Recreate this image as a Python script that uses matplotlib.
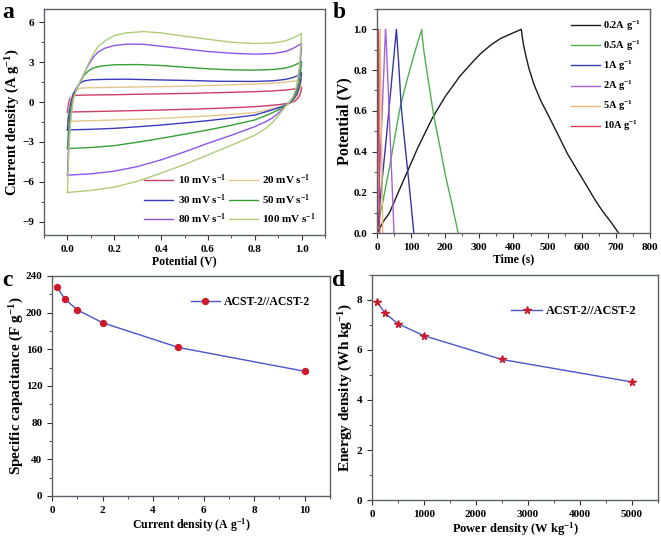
import matplotlib
matplotlib.use("Agg")
import matplotlib.pyplot as plt
from matplotlib.ticker import MultipleLocator

plt.rcParams["font.family"] = ["Liberation Serif", "DejaVu Serif"]
plt.rcParams["font.weight"] = "bold"
plt.rcParams["axes.labelweight"] = "bold"
plt.rcParams["mathtext.default"] = "regular"

# ---- panel a: CV loops (potential V, current A/g), forward then reverse sweep
cv_labels = ["10 mV s$^{-1}$", "20 mV s$^{-1}$", "30 mV s$^{-1}$",
             "50 mV s$^{-1}$", "80 mV s$^{-1}$", "100 mV s$^{-1}$"]
cv_colors = ["#cc3d66", "#e6c48e", "#3b3bbf", "#34a034", "#8f55ea", "#b0cc78"]

cv10_v = [0, 0.002, 0.005, 0.01, 0.02, 0.035, 0.06, 0.2, 0.35, 0.52, 0.65, 0.8, 0.88, 0.93, 0.96, 0.985, 1.0,
          0.998, 0.993, 0.985, 0.97, 0.95, 0.935, 0.9, 0.85, 0.8, 0.7, 0.6, 0.5, 0.4, 0.3, 0.2, 0.1, 0]
cv10_i = [-0.75, -0.4, -0.05, 0.25, 0.42, 0.5, 0.52, 0.55, 0.6, 0.65, 0.71, 0.78, 0.84, 0.9, 0.96, 1.03, 1.1,
          0.85, 0.55, 0.3, 0.05, -0.07, -0.12, -0.2, -0.28, -0.35, -0.43, -0.5, -0.55, -0.6, -0.64, -0.68, -0.72, -0.75]

cv20_v = [0, 0.003, 0.008, 0.015, 0.025, 0.04, 0.06, 0.1, 0.25, 0.4, 0.52, 0.65, 0.8, 0.88, 0.93, 0.96, 0.985, 1.0,
          0.997, 0.99, 0.98, 0.965, 0.95, 0.935, 0.9, 0.85, 0.8, 0.7, 0.6, 0.5, 0.4, 0.3, 0.2, 0.1, 0]
cv20_i = [-1.45, -0.9, -0.3, 0.3, 0.7, 0.95, 1.05, 1.08, 1.12, 1.16, 1.2, 1.27, 1.35, 1.42, 1.5, 1.56, 1.63, 1.7,
          1.3, 0.8, 0.4, 0.1, -0.07, -0.2, -0.4, -0.6, -0.8, -0.93, -1.05, -1.14, -1.23, -1.3, -1.35, -1.4, -1.45]

cv30_v = [0, 0.003, 0.008, 0.015, 0.025, 0.04, 0.056, 0.07, 0.1, 0.15, 0.25, 0.4, 0.52, 0.65, 0.8, 0.88, 0.93, 0.96, 0.985, 1.0,
          0.997, 0.99, 0.98, 0.965, 0.95, 0.935, 0.9, 0.85, 0.8, 0.7, 0.6, 0.5, 0.4, 0.3, 0.2, 0.1, 0]
cv30_i = [-2.1, -1.4, -0.7, 0.0, 0.6, 1.1, 1.45, 1.58, 1.67, 1.7, 1.72, 1.66, 1.62, 1.56, 1.55, 1.6, 1.7, 1.82, 2.0, 2.2,
          1.7, 1.1, 0.6, 0.2, -0.05, -0.2, -0.45, -0.72, -0.98, -1.2, -1.4, -1.57, -1.73, -1.86, -1.98, -2.05, -2.1]

cv50_v = [0, 0.003, 0.008, 0.015, 0.025, 0.04, 0.056, 0.07, 0.09, 0.11, 0.14, 0.2, 0.3, 0.4, 0.5, 0.6, 0.7, 0.8, 0.88, 0.93, 0.96, 0.985, 1.0,
          0.997, 0.99, 0.98, 0.965, 0.95, 0.935, 0.92, 0.9, 0.85, 0.8, 0.7, 0.6, 0.5, 0.4, 0.3, 0.2, 0.1, 0]
cv50_i = [-3.5, -2.5, -1.4, -0.4, 0.4, 1.0, 1.55, 2.0, 2.35, 2.55, 2.7, 2.8, 2.82, 2.75, 2.62, 2.5, 2.42, 2.4, 2.45, 2.55, 2.7, 2.9, 3.05,
          2.4, 1.5, 0.8, 0.3, 0.0, -0.2, -0.38, -0.6, -1.0, -1.35, -1.75, -2.1, -2.42, -2.73, -3.02, -3.28, -3.42, -3.5]

cv80_v = [0, 0.003, 0.008, 0.015, 0.025, 0.04, 0.056, 0.07, 0.09, 0.11, 0.13, 0.16, 0.2, 0.25, 0.32, 0.4, 0.5, 0.6, 0.7, 0.8, 0.88, 0.93, 0.96, 0.985, 1.0,
          0.997, 0.99, 0.98, 0.965, 0.95, 0.935, 0.92, 0.9, 0.875, 0.85, 0.8, 0.7, 0.6, 0.5, 0.4, 0.3, 0.2, 0.1, 0]
cv80_i = [-5.5, -4.0, -2.4, -0.9, 0.3, 1.0, 1.6, 2.1, 2.8, 3.35, 3.75, 4.05, 4.25, 4.35, 4.35, 4.2, 4.0, 3.8, 3.67, 3.6, 3.65, 3.8, 4.0, 4.25, 4.4,
          3.5, 2.2, 1.1, 0.4, 0.05, -0.22, -0.5, -0.85, -1.2, -1.45, -1.85, -2.5, -3.1, -3.75, -4.35, -4.85, -5.2, -5.4, -5.5]

cv100_v = [0, 0.003, 0.008, 0.015, 0.025, 0.04, 0.056, 0.07, 0.09, 0.11, 0.13, 0.16, 0.2, 0.25, 0.325, 0.4, 0.5, 0.6, 0.7, 0.8, 0.88, 0.93, 0.96, 0.985, 1.0,
           0.997, 0.99, 0.98, 0.965, 0.95, 0.935, 0.92, 0.9, 0.875, 0.85, 0.8, 0.7, 0.6, 0.5, 0.4, 0.3, 0.2, 0.1, 0]
cv100_i = [-6.8, -5.0, -3.0, -1.2, 0.2, 1.0, 1.6, 2.1, 2.9, 3.6, 4.15, 4.6, 5.0, 5.2, 5.3, 5.2, 4.95, 4.72, 4.5, 4.4, 4.45, 4.6, 4.8, 5.0, 5.15,
           4.2, 2.6, 1.3, 0.45, 0.05, -0.25, -0.6, -1.05, -1.55, -1.95, -2.5, -3.25, -3.98, -4.7, -5.35, -5.95, -6.4, -6.65, -6.8]

cv_v = [cv10_v, cv20_v, cv30_v, cv50_v, cv80_v, cv100_v]
cv_i = [cv10_i, cv20_i, cv30_i, cv50_i, cv80_i, cv100_i]

# ---- panel b: GCD curves (time s, potential V)
gcd_labels = ["0.2A g$^{-1}$", "0.5A g$^{-1}$", "1A g$^{-1}$",
              "2A g$^{-1}$", "5A g$^{-1}$", "10A g$^{-1}$"]
gcd_colors = ["#1a1a1a", "#4cb04c", "#3636a8", "#a860e0", "#e6bc70", "#e0385a"]
gcd_t = [
    [0, 5, 20, 37, 60, 86, 120, 164, 200, 243, 275, 303, 335, 362, 395, 423,
     426, 430, 435, 445, 460, 480, 500, 530, 558, 590, 617, 640, 660, 685, 708],
    [0, 5, 10, 18, 27, 37, 50, 66, 80, 96, 113, 131, 133, 137, 143, 155, 167, 185, 201, 220, 238],
    [0, 14, 27, 42, 57, 59, 63, 71, 81, 91, 100, 108],
    [0, 13, 25, 27, 38, 50],
    [0, 9, 17],
    [0, 4, 8],
]
gcd_v = [
    [0, 0.015, 0.06, 0.1, 0.19, 0.29, 0.42, 0.57, 0.67, 0.77, 0.83, 0.88, 0.925, 0.955, 0.98, 1.0,
     0.96, 0.92, 0.88, 0.81, 0.73, 0.65, 0.585, 0.485, 0.39, 0.3, 0.225, 0.16, 0.11, 0.055, 0],
    [0, 0.05, 0.1, 0.16, 0.24, 0.325, 0.45, 0.6, 0.7, 0.8, 0.9, 1.0, 0.96, 0.9, 0.83, 0.7, 0.57, 0.42, 0.28, 0.14, 0],
    [0, 0.24, 0.46, 0.73, 1.0, 0.95, 0.85, 0.62, 0.45, 0.29, 0.14, 0],
    [0, 0.5, 1.0, 0.95, 0.5, 0],
    [0, 1.0, 0],
    [0, 1.0, 0],
]

# ---- panels c and d: rate performance and Ragone plot
current_density = [0.2, 0.5, 1, 2, 5, 10]
capacitance = [228, 215, 203, 189, 162, 136]
power_density = [100, 250, 500, 1000, 2500, 5000]
energy_density = [7.92, 7.47, 7.05, 6.57, 5.62, 4.72]

fig = plt.figure(figsize=(6.61, 5.37), dpi=100)
ax_a = fig.add_axes([0.0666, 0.5624, 0.4251, 0.4209])
ax_b = fig.add_axes([0.5703, 0.5661, 0.4130, 0.4171])
ax_c = fig.add_axes([0.0787, 0.0764, 0.4206, 0.4097])
ax_d = fig.add_axes([0.5628, 0.0689, 0.4327, 0.4190])

for ax in (ax_a, ax_b, ax_c, ax_d):
    for sp in ax.spines.values():
        sp.set_color("#5a6066")
        sp.set_linewidth(1.0)
    ax.tick_params(which="both", direction="out", top=False, right=False,
                   labelsize=8, color="#333333")
    ax.tick_params(which="major", length=3.5)
    ax.tick_params(which="minor", length=2)

# a
for v, i, c, lab in zip(cv_v, cv_i, cv_colors, cv_labels):
    ax_a.plot(v, i, color=c, lw=1.0, label=lab)
ax_a.set_xlim(-0.1, 1.1)
ax_a.set_ylim(-10, 7)
ax_a.xaxis.set_major_locator(MultipleLocator(0.2))
ax_a.xaxis.set_minor_locator(MultipleLocator(0.1))
ax_a.yaxis.set_major_locator(MultipleLocator(3))
ax_a.yaxis.set_minor_locator(MultipleLocator(1.5))
ax_a.set_xlabel("Potential (V)", fontsize=8.5, labelpad=1)
ax_a.set_ylabel("Current density (A g$^{-1}$)", fontsize=10.5, labelpad=0)
h, l = ax_a.get_legend_handles_labels()
order = [0, 2, 4, 1, 3, 5]
ax_a.legend([h[k] for k in order], [l[k] for k in order], ncol=2, loc="lower right",
            frameon=False, fontsize=8, handlelength=2.6, columnspacing=0.25,
            handletextpad=0.4, labelspacing=0.45, borderaxespad=0.4)

# b
for t, v, c, lab in zip(gcd_t, gcd_v, gcd_colors, gcd_labels):
    ax_b.plot(t, v, color=c, lw=1.0, label=lab)
ax_b.set_xlim(0, 800)
ax_b.set_ylim(0, 1.1)
ax_b.xaxis.set_major_locator(MultipleLocator(100))
ax_b.xaxis.set_minor_locator(MultipleLocator(50))
ax_b.yaxis.set_major_locator(MultipleLocator(0.2))
ax_b.yaxis.set_minor_locator(MultipleLocator(0.1))
ax_b.set_xlabel("Time (s)", fontsize=8.5, labelpad=1)
ax_b.set_ylabel("Potential (V)", fontsize=11.5, labelpad=1)
ax_b.legend(loc="upper right", frameon=False, fontsize=7.5, handlelength=2.8,
            handletextpad=0.3, labelspacing=0.55, borderaxespad=0.5)

# c
ax_c.plot(current_density, capacitance, color="#4a55c8", lw=1.0, marker="o",
          ms=4.3, mfc="#cc1a2a", mec="#cc1a2a", label="ACST-2//ACST-2")
ax_c.set_xlim(0, 11)
ax_c.set_ylim(0, 240)
ax_c.xaxis.set_major_locator(MultipleLocator(2))
ax_c.xaxis.set_minor_locator(MultipleLocator(1))
ax_c.yaxis.set_major_locator(MultipleLocator(40))
ax_c.yaxis.set_minor_locator(MultipleLocator(20))
ax_c.set_xlabel("Current density (A g$^{-1}$)", fontsize=8.5, labelpad=1)
ax_c.set_ylabel("Specific capacitance (F g$^{-1}$)", fontsize=11, labelpad=0)
ax_c.legend(loc="upper right", frameon=False, fontsize=8.5, handlelength=2.5,
            handletextpad=0.3, borderaxespad=1.3)

# d
ax_d.plot(power_density, energy_density, color="#4a55c8", lw=1.0, marker="*",
          ms=5.5, mfc="#cc1a2a", mec="#cc1a2a", label="ACST-2//ACST-2")
ax_d.set_xlim(0, 5500)
ax_d.set_ylim(0, 9)
ax_d.xaxis.set_major_locator(MultipleLocator(1000))
ax_d.xaxis.set_minor_locator(MultipleLocator(500))
ax_d.yaxis.set_major_locator(MultipleLocator(2))
ax_d.yaxis.set_minor_locator(MultipleLocator(1))
ax_d.set_xlabel("Power density (W kg$^{-1}$)", fontsize=9, labelpad=1)
ax_d.set_ylabel("Energy density (Wh kg$^{-1}$)", fontsize=11, labelpad=1)
ax_d.legend(loc="center right", bbox_to_anchor=(0.94, 0.84), frameon=False,
            fontsize=8.8, handlelength=2.5, handletextpad=0.3, borderaxespad=0)

for x, y, s in [(0.004, 0.997, "a"), (0.503, 0.997, "b"),
                (0.004, 0.497, "c"), (0.503, 0.497, "d")]:
    fig.text(x, y, s, fontsize=17, fontweight="bold", va="top", ha="left")

fig.savefig("out.png", dpi=100)
